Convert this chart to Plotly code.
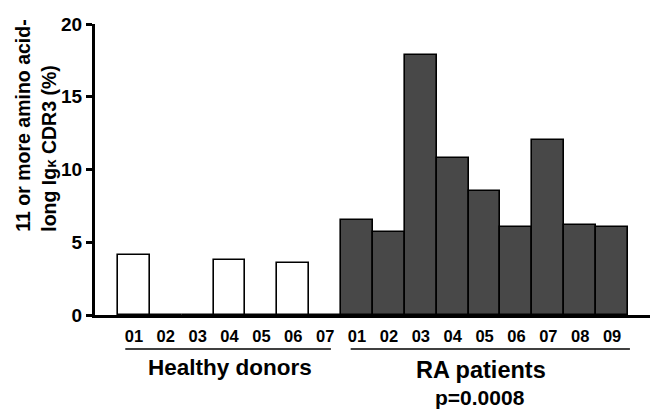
import plotly.graph_objects as go

# Percentage of Igκ clones with CDR3 of 11 or more amino acids
healthy_ids = ["01", "02", "03", "04", "05", "06", "07"]
healthy_pct = [4.1, 0, 0, 3.8, 0, 3.55, 0]

ra_ids = ["01", "02", "03", "04", "05", "06", "07", "08", "09"]
ra_pct = [6.5, 5.7, 17.9, 10.8, 8.5, 6.05, 12.0, 6.2, 6.05]

y_ticks = [0, 5, 10, 15, 20]
group_labels = ["Healthy donors", "RA patients"]
p_value_text = "p=0.0008"

FONT = "Liberation Sans, Arial, Helvetica, sans-serif"

hx = list(range(len(healthy_ids)))
rx = list(range(len(healthy_ids), len(healthy_ids) + len(ra_ids)))

fig = go.Figure()
fig.add_trace(go.Bar(
    x=hx, y=healthy_pct, width=1,
    marker=dict(color="white", line=dict(color="black", width=1.6)),
    showlegend=False,
))
fig.add_trace(go.Bar(
    x=rx, y=ra_pct, width=1,
    marker=dict(color="#484848", line=dict(color="black", width=1.6)),
    showlegend=False,
))

fig.update_layout(
    width=650, height=412,
    margin=dict(l=95, r=0, t=24, b=97),
    paper_bgcolor="white", plot_bgcolor="white",
    bargap=0,
    font=dict(family=FONT, color="black"),
)

fig.update_xaxes(
    range=[-1.22, 16.19],
    tickvals=hx + rx,
    ticktext=healthy_ids + ra_ids,
    tickfont=dict(size=16.5, weight="bold", family=FONT),
    ticks="", showgrid=False, zeroline=False,
    showline=True, linecolor="black", linewidth=2.5,
    ticklabelstandoff=4,
)
fig.update_yaxes(
    range=[0, 20],
    tickvals=y_ticks,
    tickfont=dict(size=19, weight="bold", family=FONT),
    ticks="outside", ticklen=6, tickwidth=3, tickcolor="black",
    showgrid=False, zeroline=False,
    showline=True, linecolor="black", linewidth=3,
)

# y-axis title, left-aligned two-line rotated label
fig.add_annotation(
    xref="paper", yref="paper", x=-0.107, y=0.649,
    text="11 or more amino acid-<br>long Ig<span style='font-size:15px'>κ</span> CDR3 (%)",
    textangle=-90, showarrow=False, align="left",
    xanchor="center", yanchor="middle",
    font=dict(size=19.5, weight="bold", family=FONT),
)

# group underlines
line_y = -0.117
for x0, x1 in [(hx[0] - 0.27, hx[-1] + 0.18), (rx[0] - 0.2, rx[-1] + 0.56)]:
    fig.add_shape(type="line", xref="x", yref="paper",
                  x0=x0, x1=x1, y0=line_y, y1=line_y,
                  line=dict(color="black", width=1.5))

fig.add_annotation(xref="x", yref="paper", x=3.01, y=-0.182,
                   xanchor="center", yanchor="middle",
                   text=group_labels[0], showarrow=False,
                   font=dict(size=22.5, weight="bold", family=FONT))
fig.add_annotation(xref="x", yref="paper", x=10.89, y=-0.189,
                   xanchor="center", yanchor="middle",
                   text=group_labels[1], showarrow=False,
                   font=dict(size=23.5, weight="bold", family=FONT))
fig.add_annotation(xref="x", yref="paper", x=10.85, y=-0.285,
                   xanchor="center", yanchor="middle",
                   text=p_value_text, showarrow=False,
                   font=dict(size=21, weight="bold", family=FONT))

fig.write_html("out.html")
